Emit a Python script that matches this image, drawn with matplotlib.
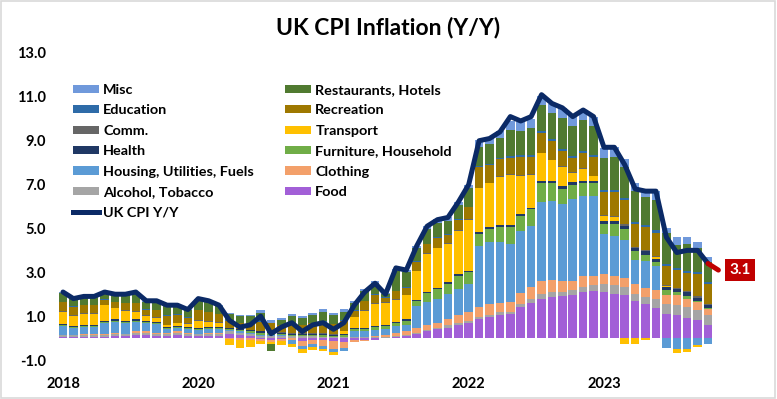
import matplotlib
matplotlib.use("Agg")
import matplotlib.pyplot as plt
import numpy as np
import pandas as pd
from matplotlib.patches import Patch, Rectangle
from matplotlib.lines import Line2D

plt.rcParams['font.family'] = ['Lato', 'DejaVu Sans']

# ---------------- data (Dec 2018 .. Feb 2024, monthly contributions, pp) ----------------
months = pd.date_range('2018-12-01', periods=63, freq='MS')

cpi = [2.1,
       1.8, 1.9, 1.9, 2.1, 2.0, 2.0, 2.1, 1.7, 1.7, 1.5, 1.5, 1.3,
       1.8, 1.7, 1.5, 0.8, 0.5, 0.6, 1.0, 0.2, 0.5, 0.7, 0.3, 0.6,
       0.7, 0.4, 0.7, 1.5, 2.1, 2.5, 2.0, 3.2, 3.1, 4.2, 5.1, 5.4,
       5.5, 6.2, 7.0, 9.0, 9.1, 9.4, 10.1, 9.9, 10.1, 11.1, 10.7, 10.5,
       10.1, 10.4, 10.1, 8.7, 8.7, 7.9, 6.8, 6.7, 6.7, 4.6, 3.9, 4.0,
       4.0, 3.4]

forecast = [3.4, 3.1]   # last actual -> next-month estimate

food = [0.05,
        0.05, 0.05, 0.05, 0.05, 0.10, 0.10, 0.15, 0.15, 0.10, 0.10, 0.15, 0.10,
        0.10, 0.10, 0.10, 0.20, 0.15, 0.10, -0.05, -0.10, -0.05, 0.00, -0.15, -0.10,
        -0.10, -0.15, -0.20, -0.10, -0.10, -0.10, 0.00, 0.05, 0.10, 0.20, 0.30, 0.40,
        0.48, 0.59, 0.67, 0.85, 0.97, 1.05, 1.09, 1.42, 1.58, 1.80, 1.88, 1.90,
        1.95, 2.10, 2.15, 2.10, 2.03, 1.95, 1.70, 1.55, 1.35, 1.12, 1.05, 0.90,
        0.82, 0.59]

alcohol = [0.10,
           0.10, 0.10, 0.10, 0.10, 0.10, 0.10, 0.10, 0.10, 0.10, 0.10, 0.10, 0.10,
           0.10, 0.10, 0.10, 0.10, 0.10, 0.10, 0.10, 0.10, 0.10, 0.10, 0.10, 0.10,
           0.05, 0.05, 0.05, 0.05, 0.05, 0.05, 0.05, 0.05, 0.05, 0.05, 0.05, 0.05,
           0.10, 0.10, 0.10, 0.10, 0.10, 0.12, 0.12, 0.15, 0.18, 0.22, 0.22, 0.22,
           0.22, 0.23, 0.25, 0.38, 0.40, 0.38, 0.33, 0.33, 0.45, 0.45, 0.45, 0.50,
           0.45, 0.45]

clothing = [0.00,
            0.00, 0.05, 0.05, 0.05, 0.05, 0.00, 0.05, 0.05, 0.05, 0.05, 0.05, 0.05,
            0.00, 0.05, 0.05, -0.05, -0.10, -0.10, -0.10, -0.10, -0.10, -0.10, -0.20, -0.15,
            -0.25, -0.35, -0.25, -0.10, -0.05, 0.05, 0.10, 0.15, 0.15, 0.20, 0.25, 0.25,
            0.30, 0.35, 0.40, 0.45, 0.50, 0.45, 0.45, 0.50, 0.55, 0.60, 0.55, 0.50,
            0.45, 0.48, 0.45, 0.42, 0.42, 0.42, 0.42, 0.42, 0.38, 0.38, 0.45, 0.38,
            0.38, 0.30]

housing = [0.40,
           0.30, 0.30, 0.30, 0.50, 0.50, 0.50, 0.45, 0.40, 0.40, 0.15, 0.15, 0.15,
           0.15, 0.15, 0.15, 0.05, 0.05, 0.05, 0.05, 0.05, 0.05, -0.15, -0.15, -0.15,
           -0.15, -0.15, -0.15, 0.25, 0.25, 0.25, 0.25, 0.30, 0.30, 1.00, 1.05, 1.10,
           1.15, 1.20, 1.30, 2.80, 2.80, 2.75, 2.65, 2.80, 2.80, 3.60, 3.60, 3.50,
           3.70, 3.65, 3.65, 1.85, 1.82, 1.73, 1.10, 1.20, 1.10, -0.47, -0.50, -0.50,
           -0.32, -0.27]

furniture = [0.05,
             0.05, 0.05, 0.05, 0.05, 0.05, 0.05, 0.05, 0.05, 0.05, 0.05, 0.05, 0.05,
             0.05, 0.05, 0.05, 0.05, 0.05, 0.05, 0.10, 0.10, 0.05, 0.05, 0.05, 0.05,
             0.10, 0.05, 0.10, 0.10, 0.10, 0.15, 0.15, 0.15, 0.20, 0.25, 0.40, 0.45,
             0.45, 0.60, 0.55, 0.55, 0.60, 0.70, 0.76, 0.70, 0.76, 0.85, 0.80, 0.70,
             0.68, 0.60, 0.55, 0.45, 0.53, 0.50, 0.41, 0.30, 0.18, 0.23, 0.15, 0.15,
             0.05, 0.02]

health = [0.05,
          0.05, 0.05, 0.05, 0.05, 0.05, 0.05, 0.05, 0.05, 0.05, 0.05, 0.05, 0.05,
          0.05, 0.05, 0.05, 0.05, 0.05, 0.05, 0.05, 0.05, 0.05, 0.05, 0.05, 0.05,
          0.05, 0.05, 0.05, 0.05, 0.05, 0.05, 0.05, 0.05, 0.05, 0.05, 0.05, 0.05,
          0.06, 0.06, 0.06, 0.08, 0.08, 0.08, 0.08, 0.08, 0.08, 0.10, 0.10, 0.10,
          0.10, 0.12, 0.12, 0.15, 0.15, 0.15, 0.15, 0.15, 0.15, 0.15, 0.15, 0.15,
          0.15, 0.15]

transport = [0.55,
             0.45, 0.50, 0.50, 0.70, 0.50, 0.45, 0.35, 0.20, 0.18, 0.08, 0.12, 0.15,
             0.33, 0.25, 0.20, -0.25, -0.35, -0.30, -0.10, -0.05, -0.15, -0.15, -0.20, -0.15,
             -0.10, -0.10, 0.10, 0.50, 0.80, 1.00, 1.00, 1.00, 1.10, 1.30, 1.75, 1.80,
             1.75, 2.00, 2.30, 2.00, 2.00, 2.20, 2.30, 1.75, 1.50, 1.25, 0.95, 0.90,
             0.45, 0.55, 0.20, 0.20, 0.15, -0.27, -0.27, -0.10, 0.10, 0.05, -0.18, -0.15,
             -0.08, 0.00]

comm = [0.03,
        0.03, 0.03, 0.03, 0.03, 0.03, 0.03, 0.03, 0.03, 0.03, 0.03, 0.03, 0.03,
        0.03, 0.03, 0.03, 0.03, 0.03, 0.03, 0.03, 0.03, 0.03, 0.03, 0.03, 0.03,
        0.03, 0.03, 0.03, 0.03, 0.03, 0.03, 0.03, 0.03, 0.03, 0.03, 0.03, 0.03,
        0.03, 0.03, 0.03, 0.03, 0.03, 0.03, 0.03, 0.03, 0.03, 0.03, 0.03, 0.03,
        0.03, 0.03, 0.03, 0.05, 0.05, 0.05, 0.05, 0.05, 0.05, 0.05, 0.05, 0.05,
        0.05, 0.05]

recreation = [0.40,
              0.40, 0.37, 0.37, 0.20, 0.25, 0.30, 0.35, 0.25, 0.30, 0.40, 0.35, 0.25,
              0.45, 0.40, 0.35, 0.30, 0.25, 0.30, 0.40, 0.35, 0.30, 0.45, 0.35, 0.45,
              0.50, 0.45, 0.45, 0.25, 0.40, 0.40, 0.20, 0.35, 0.30, 0.40, 0.40, 0.45,
              0.40, 0.45, 0.55, 0.95, 0.80, 0.80, 0.75, 0.85, 0.80, 0.90, 0.85, 0.70,
              0.65, 0.70, 0.85, 1.05, 1.10, 1.10, 1.05, 1.05, 1.05, 0.85, 0.80, 0.85,
              1.00, 0.90]

education = [0.03,
             0.03, 0.03, 0.03, 0.03, 0.03, 0.03, 0.03, 0.03, 0.03, 0.03, 0.03, 0.03,
             0.03, 0.03, 0.03, 0.03, 0.03, 0.03, 0.03, 0.03, 0.03, 0.03, 0.03, 0.03,
             0.03, 0.03, 0.03, 0.03, 0.03, 0.03, 0.03, 0.03, 0.03, 0.03, 0.03, 0.03,
             0.03, 0.03, 0.03, 0.05, 0.05, 0.05, 0.08, 0.08, 0.08, 0.08, 0.08, 0.08,
             0.08, 0.08, 0.08, 0.10, 0.10, 0.10, 0.10, 0.10, 0.10, 0.10, 0.10, 0.10,
             0.10, 0.10]

restaurants = [0.40,
               0.35, 0.35, 0.35, 0.30, 0.30, 0.35, 0.45, 0.35, 0.35, 0.40, 0.40, 0.30,
               0.45, 0.45, 0.35, 0.30, 0.30, 0.30, 0.40, -0.35, 0.20, 0.30, 0.30, 0.35,
               0.45, 0.40, 0.40, 0.35, 0.45, 0.50, 0.15, 0.90, 0.70, 0.60, 0.65, 0.65,
               0.60, 0.65, 0.85, 0.85, 0.90, 0.90, 1.20, 1.10, 1.20, 1.20, 1.20, 1.40,
               1.35, 1.40, 1.35, 1.45, 1.50, 1.40, 1.40, 1.30, 1.40, 1.40, 1.05, 1.20,
               1.10, 0.90]

misc = [0.05,
        0.05, 0.05, 0.05, 0.05, 0.05, 0.05, 0.05, 0.05, 0.05, 0.05, 0.05, 0.05,
        0.05, 0.05, 0.05, 0.05, 0.05, 0.05, 0.10, 0.10, 0.10, 0.10, 0.10, 0.10,
        0.10, 0.10, 0.10, 0.10, 0.10, 0.10, 0.05, 0.10, 0.10, 0.10, 0.15, 0.15,
        0.15, 0.15, 0.15, 0.30, 0.30, 0.30, 0.40, 0.40, 0.45, 0.40, 0.40, 0.45,
        0.45, 0.45, 0.40, 0.45, 0.45, 0.40, 0.35, 0.35, 0.40, 0.25, 0.35, 0.35,
        0.30, 0.25]

series_names = ['Food', 'Alcohol, Tobacco', 'Clothing', 'Housing, Utilities, Fuels',
                'Furniture, Household', 'Health', 'Transport', 'Comm.', 'Recreation',
                'Education', 'Restaurants, Hotels', 'Misc']
series_vals = [food, alcohol, clothing, housing, furniture, health, transport, comm,
               recreation, education, restaurants, misc]
series_cols = ['#A25FD7', '#A5A5A5', '#F3A06A', '#5B9BD5', '#70AD47', '#203864',
               '#FFC000', '#666666', '#9E7800', '#2E6BA8', '#507A30', '#7099DB']
line_col = '#0B2A66'
red = '#C00000'

# ---------------- figure ----------------
W, H = 777, 399
fig = plt.figure(figsize=(W / 100, H / 100), dpi=100)
px = 10.403  # pixels per month
x0_px = 63
left_px = x0_px - 1 * px
ax = fig.add_axes([left_px / W, 1 - 360 / H, 69 * px / W, (360 - 53) / H])

x = np.arange(len(cpi))
pos = np.zeros(len(cpi))
neg = np.zeros(len(cpi))
handles = {}
for name, vals, col in zip(series_names, series_vals, series_cols):
    v = np.array(vals, dtype=float)
    bottom = np.where(v >= 0, pos, neg)
    ax.bar(x, v, bottom=bottom, width=0.82, color=col, linewidth=0, zorder=2)
    pos += np.clip(v, 0, None)
    neg += np.clip(v, None, 0)
    handles[name] = Patch(facecolor=col, edgecolor='none')

ax.plot(x, cpi, color=line_col, lw=3.6, zorder=4, solid_joinstyle='round',
        solid_capstyle='round')
xf = [len(cpi) - 1, len(cpi)]
ax.plot(xf, forecast, color=red, lw=3.6, zorder=4, solid_capstyle='round')
ax.text(65.1, forecast[-1], f'{forecast[-1]:.1f}', color='white', fontweight='bold',
        fontsize=11, ha='center', va='center', zorder=5,
        bbox=dict(boxstyle='square,pad=0.28', fc=red, ec='none'))

ax.set_xlim(-1, 68)
ax.set_ylim(-1, 13)
yt = np.arange(-1, 14, 2)
ax.set_yticks(yt)
ax.set_yticklabels([f'{v:.1f}' for v in yt], fontweight='bold', fontsize=10.5)
tick_idx = list(range(0, len(cpi), 13))
ax.set_xticks(tick_idx)
ax.set_xticklabels([str(months[i].year) for i in tick_idx], fontweight='bold', fontsize=10.5)
ax.tick_params(axis='both', length=0)
ax.tick_params(axis='y', pad=5)
ax.tick_params(axis='x', pad=12)
for s in ax.spines.values():
    s.set_visible(False)

# legends
col1 = ['Misc', 'Education', 'Comm.', 'Health', 'Housing, Utilities, Fuels', 'Alcohol, Tobacco']
col2 = ['Restaurants, Hotels', 'Recreation', 'Transport', 'Furniture, Household', 'Clothing', 'Food']
h1 = [handles[n] for n in col1] + [Line2D([], [], color=line_col, lw=3.6)]
l1 = col1 + ['UK CPI Y/Y']
h2 = [handles[n] for n in col2]
common = dict(loc='upper left', bbox_transform=fig.transFigure, frameon=False,
              prop={'weight': 'bold', 'size': 10.4}, handlelength=1.8, handleheight=0.5,
              handletextpad=0.3, labelspacing=0.58, borderpad=0, borderaxespad=0)
leg1 = ax.legend(h1, l1, bbox_to_anchor=(73 / W, 1 - 84 / H), **common)
ax.add_artist(leg1)
leg2 = ax.legend(h2, col2, bbox_to_anchor=(285 / W, 1 - 84 / H), **common)

fig.text(0.5, 1 - 27 / H, 'UK CPI Inflation (Y/Y)', ha='center', va='center',
         fontsize=16.5, fontweight='bold')

fig.patches.append(Rectangle((0.001, 0.002), 0.997, 0.995, transform=fig.transFigure,
                             fill=False, edgecolor='#D9D9D9', lw=1.2))

fig.savefig('out.png', dpi=100)
